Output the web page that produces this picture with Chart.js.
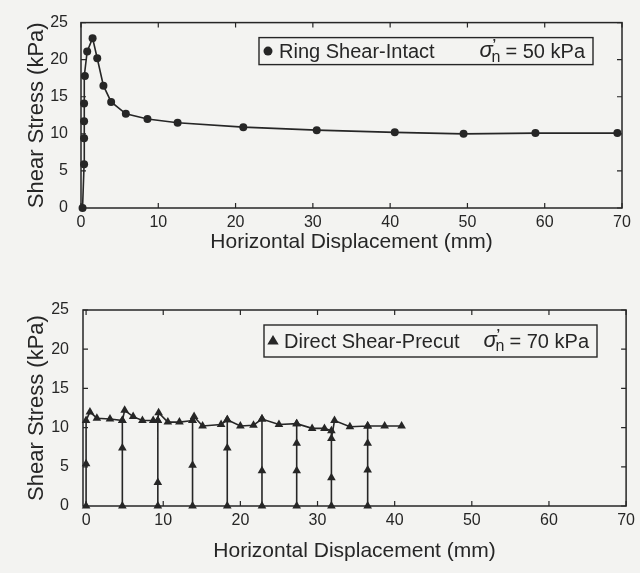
<!DOCTYPE html>
<html>
<head>
<meta charset="utf-8">
<title>Shear Stress vs Horizontal Displacement</title>
<script src="https://cdn.jsdelivr.net/npm/chart.js@4.4.0/dist/chart.umd.min.js"></script>
<style>
  html, body { margin: 0; padding: 0; background: #f3f3f1; }
  #wrap { position: relative; width: 640px; height: 573px; overflow: hidden; }
  #ring-chart { position: absolute; left: 0; top: 0; }
  #direct-chart { position: absolute; left: 0; top: 270px; }
</style>
</head>
<body>
<div id="wrap">
  <canvas id="ring-chart" width="640" height="262"></canvas>
  <canvas id="direct-chart" width="640" height="303"></canvas>
</div>
<script>
// ==== DATA ====
var xTicks = [0, 10, 20, 30, 40, 50, 60, 70];
var yTicks = [0, 5, 10, 15, 20, 25];

// Ring Shear-Intact, sigma'n = 50 kPa
var ringX = [0.2, 0.4, 0.4, 0.4, 0.4, 0.5, 0.8, 1.5, 2.1, 2.9, 3.9, 5.8, 8.6, 12.5, 21.0, 30.5, 40.6, 49.5, 58.8, 69.4];
var ringY = [0, 5.9, 9.4, 11.7, 14.1, 17.8, 21.1, 22.9, 20.2, 16.5, 14.3, 12.7, 12.0, 11.5, 10.9, 10.5, 10.2, 10.0, 10.1, 10.1];

// Direct Shear-Precut, sigma'n = 70 kPa (cumulative displacement, 9 reversals)
var directX = [
  0, 0, 0, 0.5, 1.4, 3.1, 4.7,
  4.7, 4.7, 4.7, 5.0, 6.1, 7.3, 8.7, 9.3,
  9.3, 9.3, 9.3, 9.4, 10.6, 12.1, 13.8,
  13.8, 13.8, 13.8, 14.0, 15.1, 17.5, 18.3,
  18.3, 18.3, 18.3, 20.0, 21.7, 22.8,
  22.8, 22.8, 22.8, 25.0, 27.3,
  27.3, 27.3, 27.3, 27.3, 29.3, 30.9, 31.8,
  31.8, 31.8, 31.8, 32.2, 34.2, 36.5,
  36.5, 36.5, 36.5, 36.5, 38.7, 40.9
];
var directY = [
  0, 5.4, 10.9, 12.0, 11.2, 11.1, 10.9,
  0, 7.4, 10.9, 12.2, 11.4, 10.9, 10.9, 10.9,
  0, 3.0, 10.9, 11.9, 10.7, 10.7, 10.9,
  0, 5.2, 10.9, 11.4, 10.2, 10.4, 11.0,
  0, 7.4, 11.0, 10.2, 10.3, 11.1,
  0, 4.5, 11.1, 10.4, 10.5,
  0, 4.5, 8.0, 10.5, 9.9, 9.9, 9.6,
  0, 3.6, 8.6, 10.9, 10.1, 10.2,
  0, 4.6, 8.0, 10.2, 10.2, 10.2
];

(function () {
  var ink = '#262626';
  var paper = '#f3f3f1';
  var fam = '"Liberation Sans", Arial, Helvetica, sans-serif';
  Chart.defaults.font.family = fam;
  Chart.defaults.color = ink;

  function pts(xs, ys) {
    return xs.map(function (x, i) { return { x: x, y: ys[i] }; });
  }

  // ==== FRAME + INWARD TICKS ====
  var framePlugin = {
    id: 'frame',
    beforeDatasetsDraw: function (chart) {
      var ctx = chart.ctx, a = chart.chartArea, sx = chart.scales.x, sy = chart.scales.y;
      ctx.save();
      ctx.strokeStyle = ink; ctx.lineWidth = 1.5;
      ctx.strokeRect(a.left, a.top, a.right - a.left, a.bottom - a.top);
      ctx.beginPath();
      sx.ticks.forEach(function (t) {
        var px = sx.getPixelForValue(t.value);
        ctx.moveTo(px, a.bottom); ctx.lineTo(px, a.bottom - 5);
        ctx.moveTo(px, a.top); ctx.lineTo(px, a.top + 5);
      });
      sy.ticks.forEach(function (t) {
        var py = sy.getPixelForValue(t.value);
        ctx.moveTo(a.left, py); ctx.lineTo(a.left + 5, py);
        ctx.moveTo(a.right, py); ctx.lineTo(a.right - 5, py);
      });
      ctx.lineWidth = 1.2;
      ctx.stroke();
      ctx.restore();
    }
  };

  // ==== BOXED LEGEND WITH sigma'n ====
  function marker(ctx, style, x, y, r) {
    ctx.beginPath();
    if (style === 'triangle') {
      ctx.moveTo(x, y - r); ctx.lineTo(x + r * 0.95, y + r * 0.6); ctx.lineTo(x - r * 0.95, y + r * 0.6);
      ctx.closePath();
    } else {
      ctx.arc(x, y, r, 0, Math.PI * 2);
    }
    ctx.fill();
  }

  var legendPlugin = {
    id: 'boxLegend',
    afterDraw: function (chart, args, o) {
      if (!o || !o.label) return;
      var ctx = chart.ctx, a = chart.chartArea;
      var x0 = a.left + o.left, y0 = a.top + o.top, w = o.width, h = o.height, cy = y0 + h / 2 + 1;
      ctx.save();
      ctx.fillStyle = paper; ctx.fillRect(x0, y0, w, h);
      ctx.strokeStyle = ink; ctx.lineWidth = 1.4; ctx.strokeRect(x0, y0, w, h);
      ctx.fillStyle = ink;
      marker(ctx, o.marker, x0 + 9, cy - 1, o.marker === 'triangle' ? 6 : 4.5);
      ctx.textBaseline = 'middle'; ctx.textAlign = 'left';
      ctx.font = '20px ' + fam;
      ctx.fillText(o.label, x0 + 20, cy);
      var rest = '= ' + o.sigma + ' kPa';
      var restW = ctx.measureText(rest).width;
      var xr = x0 + w - 8 - restW;
      ctx.fillText(rest, xr, cy);
      var xs = xr - 26;
      ctx.font = 'italic 22px ' + fam;
      ctx.fillText('\u03c3', xs, cy - 1);
      ctx.font = 'bold 13px ' + fam;
      ctx.fillText('\u2019', xs + 13, cy - 8);
      ctx.font = '16px ' + fam;
      ctx.fillText('n', xs + 12, cy + 5);
      ctx.restore();
    }
  };

  // ==== SCALES ====
  function makeScales(o) {
    return {
      x: {
        type: 'linear', min: o.xMin, max: xTicks[xTicks.length - 1],
        afterBuildTicks: function (s) { s.ticks = xTicks.map(function (v) { return { value: v }; }); },
        afterFit: function (s) { s.height = o.xH; },
        grid: { display: false, drawTicks: false }, border: { display: false },
        ticks: { color: ink, font: { size: 16 }, padding: 5, maxRotation: 0, autoSkip: false },
        title: { display: true, text: 'Horizontal Displacement (mm)', color: ink, font: { size: 21 }, padding: { top: 0, bottom: o.xTitlePad } }
      },
      y: {
        type: 'linear', min: yTicks[0], max: yTicks[yTicks.length - 1],
        afterBuildTicks: function (s) { s.ticks = yTicks.map(function (v) { return { value: v }; }); },
        afterFit: function (s) { s.width = o.yW; },
        grid: { display: false, drawTicks: false }, border: { display: false },
        ticks: { color: ink, font: { size: 16 }, padding: o.yPad, autoSkip: false },
        title: { display: true, text: 'Shear Stress (kPa)', color: ink, font: { size: 22 }, padding: { top: 24, bottom: 0 } }
      }
    };
  }

  function makeChart(id, data, style, radius, legendOpts, layoutPad, scaleOpts) {
    return new Chart(document.getElementById(id).getContext('2d'), {
      type: 'scatter',
      data: { datasets: [{
        data: data, showLine: true, borderColor: ink, backgroundColor: ink,
        borderWidth: 1.6, pointStyle: style, pointRadius: radius, pointHoverRadius: radius,
        pointBorderWidth: 0, tension: 0, clip: false
      }] },
      options: {
        responsive: false, animation: false,
        layout: { padding: layoutPad },
        plugins: { legend: { display: false }, tooltip: { enabled: false }, boxLegend: legendOpts },
        scales: makeScales(scaleOpts)
      },
      plugins: [framePlugin, legendPlugin]
    });
  }

  makeChart('ring-chart', pts(ringX, ringY), 'circle', 4,
    { label: 'Ring Shear-Intact', sigma: 50, marker: 'circle', left: 178, top: 15, width: 334, height: 27 },
    { top: 13, right: 18, left: 0, bottom: 0 },
    { xMin: 0, xH: 54, xTitlePad: 7, yW: 81, yPad: 13 });

  makeChart('direct-chart', pts(directX, directY), 'triangle', 5,
    { label: 'Direct Shear-Precut', sigma: 70, marker: 'triangle', left: 181, top: 15, width: 333, height: 32 },
    { top: 40, right: 13, left: 0, bottom: 0 },
    { xMin: -0.4, xH: 67, xTitlePad: 9, yW: 83, yPad: 14 });
})();
</script>
</body>
</html>
